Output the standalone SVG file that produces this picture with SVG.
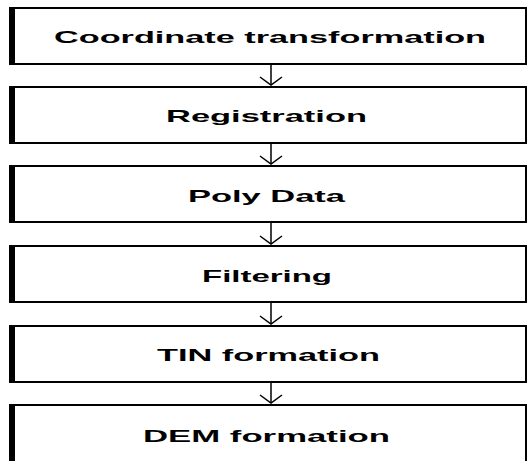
<svg xmlns="http://www.w3.org/2000/svg" width="529" height="461" viewBox="0 0 529 461">
  <defs>
    <style>
      .box { fill: #ffffff; stroke: #000000; stroke-width: 2; }
      .edge { fill: #000000; }
      .lbl { font-family: "Liberation Sans", Arial, sans-serif; font-weight: bold; font-size: 17px; fill: #000000; text-anchor: middle; }
      .conn { stroke: #000000; stroke-width: 1.5; fill: none; }
    </style>
    <marker id="vhead" markerUnits="userSpaceOnUse" markerWidth="24" markerHeight="24" viewBox="-12 -12 24 24" refX="0" refY="0" orient="auto" overflow="visible">
      <path d="M-8,-11 L0,0 L-8,11" fill="none" stroke="#000000" stroke-width="1.5"/>
    </marker>
  </defs>
  <rect width="529" height="461" fill="#ffffff"/>

  <g id="connectors">
    <line class="conn" x1="271" y1="65" x2="271" y2="85" marker-end="url(#vhead)"/>
    <line class="conn" x1="271" y1="144" x2="271" y2="164" marker-end="url(#vhead)"/>
    <line class="conn" x1="271" y1="223" x2="271" y2="244" marker-end="url(#vhead)"/>
    <line class="conn" x1="271" y1="303" x2="271" y2="324" marker-end="url(#vhead)"/>
    <line class="conn" x1="271" y1="383" x2="271" y2="403" marker-end="url(#vhead)"/>
  </g>

  <g id="node-coordinate">
    <rect class="box" x="11" y="8" width="515" height="56"/>
    <rect class="edge" x="9" y="7" width="6" height="58"/>
    <text class="lbl" x="270" y="43" textLength="432" lengthAdjust="spacingAndGlyphs">Coordinate transformation</text>
  </g>
  <g id="node-registration">
    <rect class="box" x="11" y="87" width="515" height="56"/>
    <rect class="edge" x="9" y="86" width="6" height="58"/>
    <text class="lbl" x="266.5" y="122" textLength="201" lengthAdjust="spacingAndGlyphs">Registration</text>
  </g>
  <g id="node-polydata">
    <rect class="box" x="11" y="166" width="515" height="56"/>
    <rect class="edge" x="9" y="165" width="6" height="58"/>
    <text class="lbl" x="266.5" y="201.5" textLength="157" lengthAdjust="spacingAndGlyphs">Poly Data</text>
  </g>
  <g id="node-filtering">
    <rect class="box" x="11" y="246" width="515" height="56"/>
    <rect class="edge" x="9" y="245" width="6" height="58"/>
    <text class="lbl" x="267" y="281.5" textLength="130" lengthAdjust="spacingAndGlyphs">Filtering</text>
  </g>
  <g id="node-tin">
    <rect class="box" x="11" y="326" width="515" height="56"/>
    <rect class="edge" x="9" y="325" width="6" height="58"/>
    <text class="lbl" x="268.5" y="361" textLength="223" lengthAdjust="spacingAndGlyphs">TIN formation</text>
  </g>
  <g id="node-dem">
    <rect class="box" x="11" y="405" width="515" height="70"/>
    <rect class="edge" x="9" y="404" width="6" height="70"/>
    <text class="lbl" x="266.5" y="441.5" textLength="247" lengthAdjust="spacingAndGlyphs">DEM formation</text>
  </g>
</svg>
